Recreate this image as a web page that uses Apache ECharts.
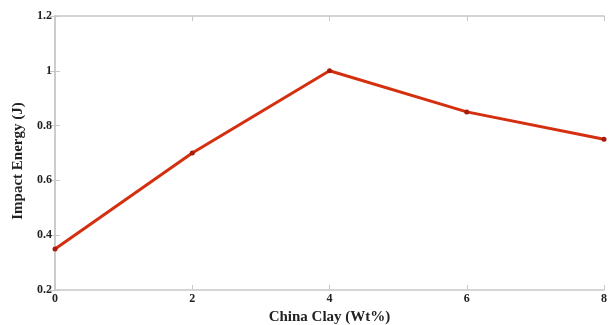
<!DOCTYPE html>
<html><head><meta charset="utf-8">
<script src="https://cdn.jsdelivr.net/npm/echarts@6/dist/echarts.min.js"></script>
<style>html,body{margin:0;padding:0;background:#fff}#c{width:613px;height:325px}</style>
</head><body><div id="c"></div>
<script>
const xValues = [0, 2, 4, 6, 8];
const impactEnergy = [0.35, 0.70, 1.00, 0.85, 0.75];
const xTitle = 'China Clay (Wt%)';
const yTitle = 'Impact Energy (J)';

const font = 'Liberation Serif, Times New Roman, serif';
const axisLineColor = '#c8c8c8';
const chart = echarts.init(document.getElementById('c'));
const baseX = {
  type: 'value', min: 0, max: 8, interval: 2,
  axisLine: { show: true, lineStyle: { color: axisLineColor, width: 1.5 } },
  axisTick: { show: true, inside: true, length: 5, lineStyle: { color: axisLineColor } },
  splitLine: { show: false }
};
const baseY = {
  type: 'value', min: 0.2, max: 1.2, interval: 0.2,
  axisLine: { show: true, lineStyle: { color: axisLineColor, width: 1.5 } },
  axisTick: { show: true, inside: true, length: 5, lineStyle: { color: axisLineColor } },
  splitLine: { show: false }
};
chart.setOption({
  animation: false,
  grid: { left: 55, right: 9, top: 16, bottom: 35, containLabel: false, outerBoundsMode: 'none' },
  xAxis: [
    Object.assign({}, baseX, {
      position: 'bottom',
      name: xTitle, nameLocation: 'middle', nameGap: 20,
      nameTextStyle: { fontFamily: font, fontWeight: 'bold', fontSize: 15, color: '#222' },
      axisLabel: { fontFamily: font, fontWeight: 'bold', fontSize: 12, color: '#222', margin: 3 }
    }),
    Object.assign({}, baseX, { position: 'top', axisLabel: { show: false } })
  ],
  yAxis: [
    Object.assign({}, baseY, {
      position: 'left',
      name: yTitle, nameLocation: 'middle', nameGap: 28,
      nameTextStyle: { fontFamily: font, fontWeight: 'bold', fontSize: 15, color: '#222', padding: [0, 16, 0, 0] },
      axisLabel: { fontFamily: font, fontWeight: 'bold', fontSize: 12, color: '#222', margin: 3,
        formatter: v => String(Math.round(v * 10) / 10) }
    }),
    Object.assign({}, baseY, { position: 'right', axisLabel: { show: false } })
  ],
  series: [{
    type: 'line',
    data: xValues.map((x, i) => [x, impactEnergy[i]]),
    lineStyle: { color: '#d4300f', width: 3 },
    itemStyle: { color: '#a81a0a' },
    symbol: 'circle', symbolSize: 5,
    showSymbol: true
  }]
});
</script></body></html>
